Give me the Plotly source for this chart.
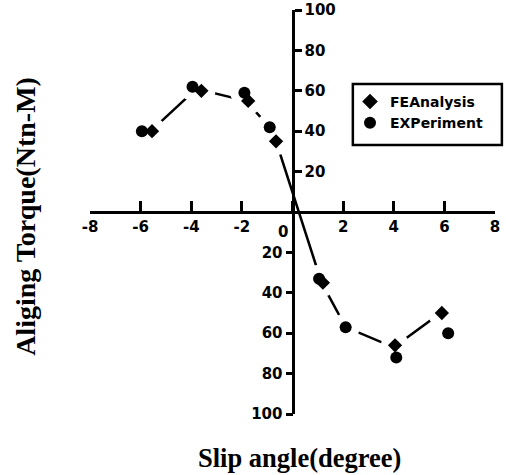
import plotly.graph_objects as go

# FEAnalysis (diamonds)
fe_x = [-5.55, -3.6, -1.75, -0.65, 1.2, 4.05, 5.9]
fe_y = [40, 60, 55, 35, -35, -66, -50]
# Experiment (circles)
ex_x = [-5.95, -3.95, -1.9, -0.9, 1.05, 2.1, 4.1, 6.15]
ex_y = [40, 62, 59, 42, -33, -57, -72, -60]
# trend curve
tr_x = [-5.6, -3.8, -1.85, -0.9, -0.65, 1.15, 2.1, 4.0, 5.85]
tr_y = [40, 61, 55, 42, 35, -35, -57, -67, -50]

x_ticks = [-8, -6, -4, -2, 0, 2, 4, 6, 8]
y_pos_ticks = [20, 40, 60, 80, 100]
y_neg_ticks = [-20, -40, -60, -80, -100]

TF = dict(family="DejaVu Sans", size=15, color="black", weight="bold")

fig = go.Figure()
# trend line on the base y axis (drawn underneath)
fig.add_trace(go.Scatter(x=tr_x, y=tr_y, mode="lines", showlegend=False, hoverinfo="skip",
                         line=dict(color="black", width=2.5)))
# white halos + symbols on the overlaying axis (drawn above the line)
fig.add_trace(go.Scatter(x=fe_x + ex_x, y=fe_y + ex_y, yaxis="y2", mode="markers",
                         showlegend=False, hoverinfo="skip",
                         marker=dict(symbol="circle", size=28, color="white",
                                     line=dict(width=0))))
fig.add_trace(go.Scatter(x=fe_x, y=fe_y, yaxis="y2", mode="markers", name="FEAnalysis",
                         marker=dict(symbol="diamond", size=11, color="black")))
fig.add_trace(go.Scatter(x=ex_x, y=ex_y, yaxis="y2", mode="markers", name="EXPeriment",
                         marker=dict(symbol="circle", size=12, color="black")))

fig.update_layout(
    width=506, height=475,
    margin=dict(l=90, r=11, t=10, b=61, autoexpand=False),
    plot_bgcolor="white", paper_bgcolor="white",
    xaxis=dict(range=[-8, 8], anchor="free", position=0.5, automargin=False,
               showgrid=False, zeroline=False, showline=True, linecolor="black", linewidth=3,
               ticks="inside", ticklen=10, tickwidth=2.5, tickcolor="black",
               tickvals=x_ticks, ticktext=[str(v) if v != 0 else "" for v in x_ticks],
               tickfont=TF, ticklabeloverflow="allow"),
    yaxis=dict(range=[-100, 100], anchor="free", position=0.5, side="right", automargin=False,
               showgrid=False, zeroline=False, showline=True, linecolor="black", linewidth=3,
               ticks="outside", ticklen=7, tickwidth=2.5, tickcolor="black",
               tickvals=y_pos_ticks, ticktext=[str(v) for v in y_pos_ticks], tickfont=TF,
               ticklabeloverflow="allow"),
    yaxis2=dict(range=[-100, 100], overlaying="y", anchor="free", position=0.5, side="left",
                automargin=False, showgrid=False, zeroline=False, showline=False,
                ticks="outside", ticklen=7, tickwidth=2.5, tickcolor="black",
                tickvals=y_neg_ticks, ticktext=[str(-v) for v in y_neg_ticks], tickfont=TF,
                ticklabeloverflow="allow"),
    legend=dict(x=0.642, y=0.812, xanchor="left", yanchor="top",
                borderwidth=0, bgcolor="rgba(0,0,0,0)",
                font=dict(family="DejaVu Sans", size=14, color="black", weight="bold"),
                itemsizing="constant", tracegroupgap=0),
    shapes=[dict(type="rect", xref="paper", yref="paper", x0=0.649, x1=1.017,
                 y0=0.666, y1=0.817, line=dict(color="black", width=2.5),
                 fillcolor="white", layer="below")],
    annotations=[
        dict(text="0", x=0, y=0, xref="x", yref="y", showarrow=False,
             xanchor="center", yanchor="top", xshift=-10, yshift=-9, font=TF),
        dict(text="Slip angle(degree)", x=0.518, y=-0.109, xref="paper", yref="paper",
             showarrow=False, xanchor="center", yanchor="middle",
             font=dict(family="Liberation Serif", size=26.5, color="black", weight="bold")),
        dict(text="Aliging Torque(Ntn-M)", x=-0.158, y=0.488, xref="paper", yref="paper",
             showarrow=False, textangle=-90, xanchor="center", yanchor="middle",
             font=dict(family="Liberation Serif", size=28, color="black", weight="bold")),
    ],
)

fig.write_html("out.html", config={"displayModeBar": False},
               post_script="document.body.style.margin='0px';document.body.style.padding='0px';")
